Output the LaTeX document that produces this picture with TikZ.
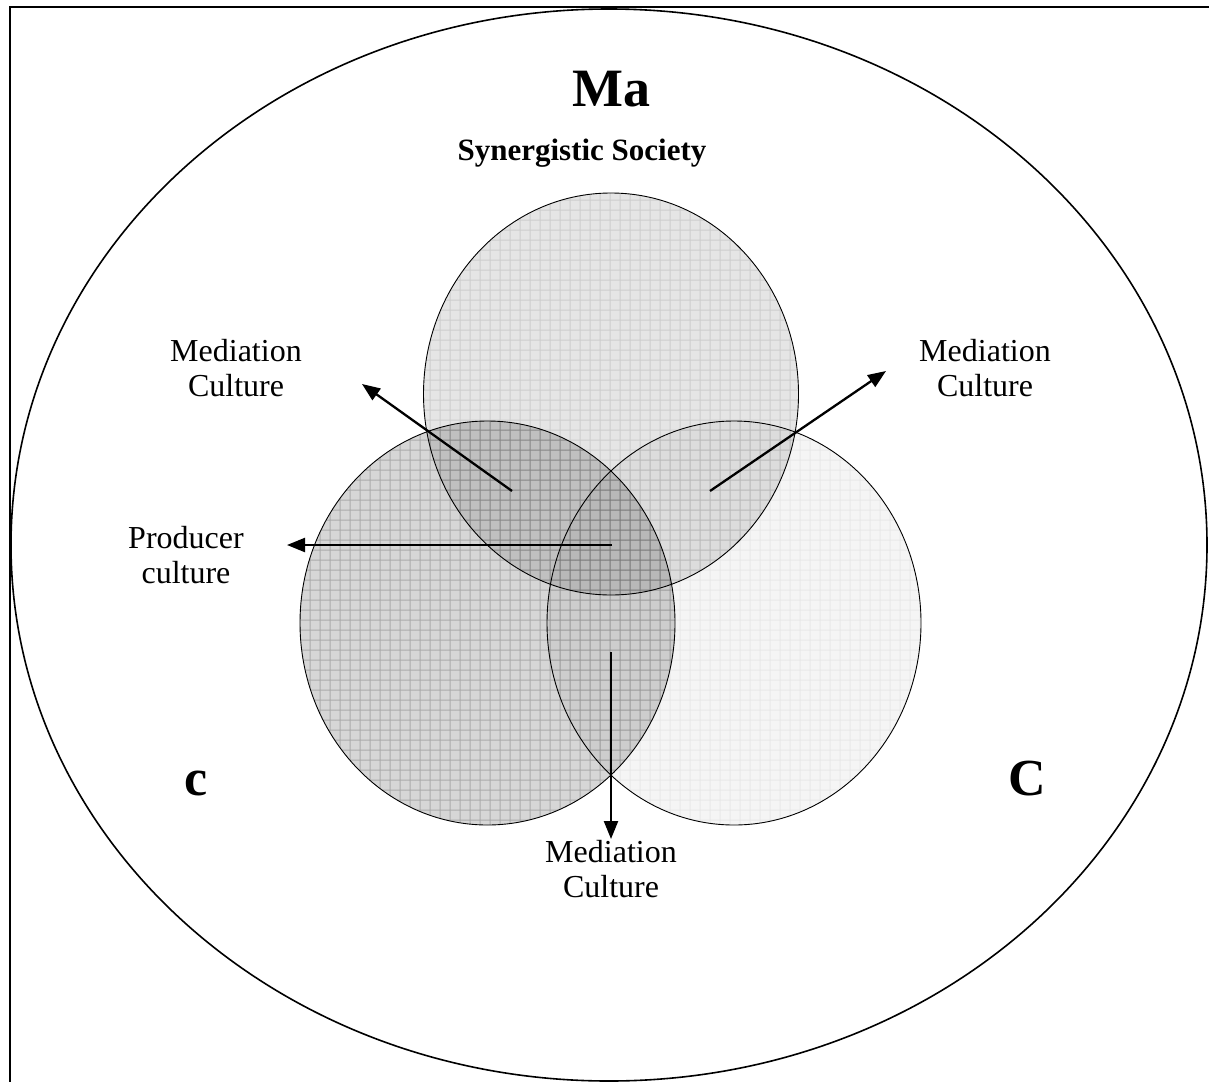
\documentclass[tikz,border=0pt]{standalone}
\usepackage{fontspec}
\setmainfont{Liberation Serif}
\usetikzlibrary{arrows.meta,patterns.meta}
\tikzset{
  lbl/.style={align=center,inner sep=0pt,font=\fontsize{32}{35}\selectfont},
  big/.style={inner sep=0pt,font=\fontsize{52}{56}\selectfont\bfseries},
  arr/.style={line width=2.3pt,-{Triangle[length=18pt,width=14pt]}},
  venn/.style={line width=0.9pt,draw=black},
  grid/.style={pattern={Hatch[distance=10pt,angle=0,line width=1pt]},pattern color=black}
}
\begin{document}
\begin{tikzpicture}[x=1pt,y=-1pt]
\useasboundingbox (0,0) rectangle (1209,1081);
\clip (0,0) rectangle (1209,1081);
\fill[white] (0,0) rectangle (1209,1081);
% frame
\draw[line width=2pt] (10,7) rectangle (1230,1100);
% outer ellipse
\draw[line width=1.6pt] (609,545) ellipse [x radius=598pt, y radius=536pt];
% top circle
\fill[black,fill opacity=0.10] (611,394) ellipse [x radius=187.5pt, y radius=201pt];
\begin{scope}[transparency group,opacity=0.10]
\fill[grid] (611,394) ellipse [x radius=187.5pt, y radius=201pt];
\end{scope}
\draw[venn] (611,394) ellipse [x radius=187.5pt, y radius=201pt];
% right circle
\fill[black,fill opacity=0.04] (734,623) ellipse [x radius=187pt, y radius=202pt];
\begin{scope}[transparency group,opacity=0.05]
\fill[grid] (734,623) ellipse [x radius=187pt, y radius=202pt];
\end{scope}
\draw[venn] (734,623) ellipse [x radius=187pt, y radius=202pt];
% left circle
\fill[black,fill opacity=0.16] (487.5,623) ellipse [x radius=187.5pt, y radius=202pt];
\begin{scope}[transparency group,opacity=0.2]
\fill[grid] (487.5,623) ellipse [x radius=187.5pt, y radius=202pt];
\end{scope}
\draw[venn] (487.5,623) ellipse [x radius=187.5pt, y radius=202pt];
% titles
\node[inner sep=0pt,anchor=base,font=\fontsize{54}{58}\selectfont\bfseries] (ma) at (611,106) {Ma};
\node[inner sep=0pt,anchor=base,font=\fontsize{31}{34}\selectfont\bfseries] (syn) at (582,160) {Synergistic Society};
\node[big,anchor=base] (cl) at (196,795) {c};
\node[big,anchor=base] (cu) at (1027,795) {C};
% labels
\node[lbl] (ml) at (236,368) {Mediation\\Culture};
\node[lbl] (mr) at (985,368) {Mediation\\Culture};
\node[lbl] (pc) at (186,555) {Producer\\culture};
\node[lbl] (mb) at (611,869) {Mediation\\Culture};
% arrow ends
\coordinate (s1) at (512,491);
\coordinate (e1) at (362,384);
\coordinate (s2) at (710,491);
\coordinate (e2) at (886,371);
\coordinate (s3) at (612,545);
\coordinate (e3) at (287,545);
\coordinate (s4) at (611,652);
\coordinate (e4) at (611,839);
\draw[arr] (s1) -- (e1);
\draw[arr] (s2) -- (e2);
\draw[arr] (s3) -- (e3);
\draw[arr] (s4) -- (e4);
\end{tikzpicture}
\end{document}
